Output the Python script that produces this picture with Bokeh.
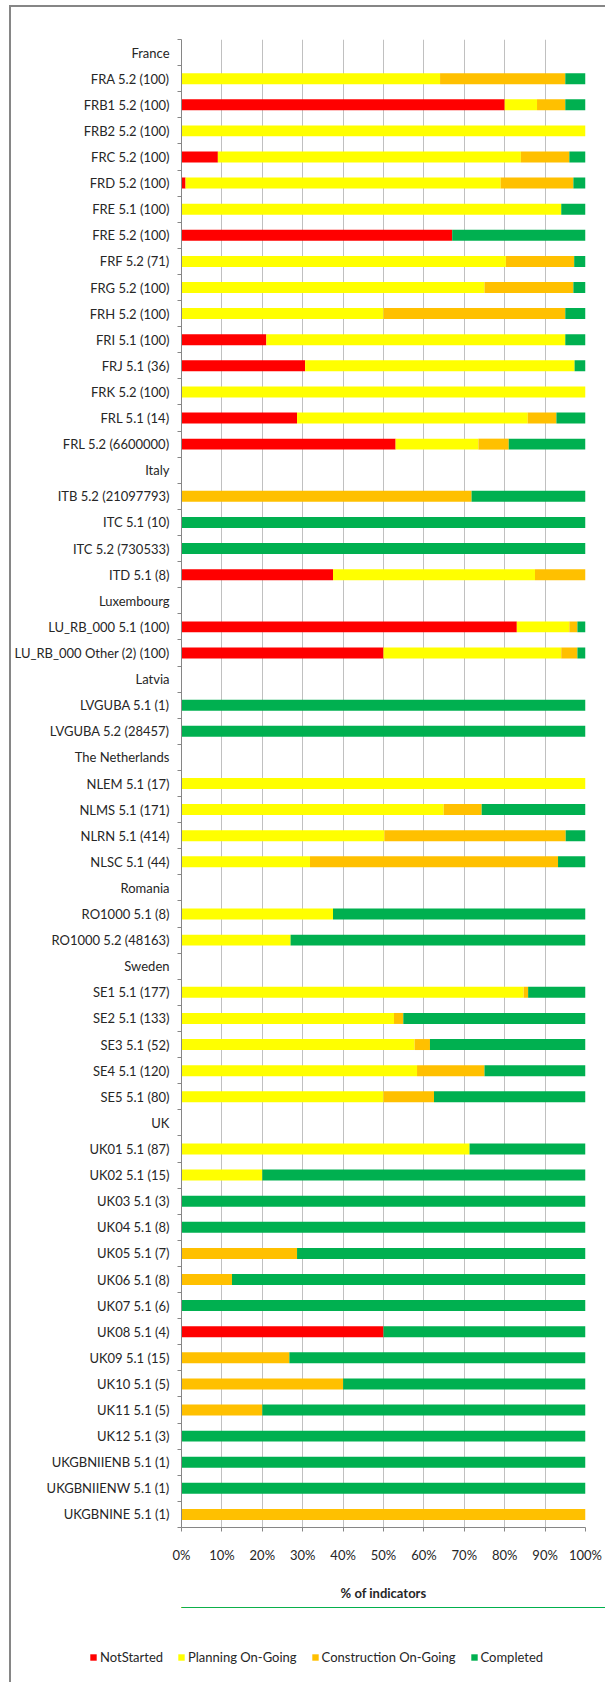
from bokeh.plotting import figure
from bokeh.layouts import column
from bokeh.models import (ColumnDataSource, Range1d, LinearAxis, FixedTicker, PrintfTickFormatter,
                          CustomJSTickFormatter, Legend, LegendItem)
from bokeh.embed import file_html
from bokeh.resources import INLINE

labels = [
    "France", "FRA 5.2 (100)", "FRB1 5.2 (100)", "FRB2 5.2 (100)", "FRC 5.2 (100)", "FRD 5.2 (100)",
    "FRE 5.1 (100)", "FRE 5.2 (100)", "FRF 5.2 (71)", "FRG 5.2 (100)", "FRH 5.2 (100)", "FRI 5.1 (100)",
    "FRJ 5.1 (36)", "FRK 5.2 (100)", "FRL 5.1 (14)", "FRL 5.2 (6600000)",
    "Italy", "ITB 5.2 (21097793)", "ITC 5.1 (10)", "ITC 5.2 (730533)", "ITD 5.1 (8)",
    "Luxembourg", "LU_RB_000 5.1 (100)", "LU_RB_000 Other (2) (100)",
    "Latvia", "LVGUBA 5.1 (1)", "LVGUBA 5.2 (28457)",
    "The Netherlands", "NLEM 5.1 (17)", "NLMS 5.1 (171)", "NLRN 5.1 (414)", "NLSC 5.1 (44)",
    "Romania", "RO1000 5.1 (8)", "RO1000 5.2 (48163)",
    "Sweden", "SE1 5.1 (177)", "SE2 5.1 (133)", "SE3 5.1 (52)", "SE4 5.1 (120)", "SE5 5.1 (80)",
    "UK", "UK01 5.1 (87)", "UK02 5.1 (15)", "UK03 5.1 (3)", "UK04 5.1 (8)", "UK05 5.1 (7)",
    "UK06 5.1 (8)", "UK07 5.1 (6)", "UK08 5.1 (4)", "UK09 5.1 (15)", "UK10 5.1 (5)", "UK11 5.1 (5)",
    "UK12 5.1 (3)", "UKGBNIIENB 5.1 (1)", "UKGBNIIENW 5.1 (1)", "UKGBNINE 5.1 (1)",
]

not_started = [
    0, 0, 80, 0, 9, 1, 0, 67, 0, 0, 0, 21, 30.6, 0, 28.6, 53,
    0, 0, 0, 0, 37.5,
    0, 83, 50,
    0, 0, 0,
    0, 0, 0, 0, 0,
    0, 0, 0,
    0, 0, 0, 0, 0, 0,
    0, 0, 0, 0, 0, 0, 0, 0, 50, 0, 0, 0, 0, 0, 0, 0,
]
planning = [
    0, 64, 8, 100, 75, 78, 94, 0, 80.3, 75, 50, 74, 66.7, 100, 57.1, 20.5,
    0, 0, 0, 0, 50,
    0, 13, 44,
    0, 0, 0,
    0, 100, 64.9, 50.2, 31.8,
    0, 37.5, 27,
    0, 84.7, 52.6, 57.7, 58.3, 50,
    0, 71.3, 20, 0, 0, 0, 0, 0, 0, 0, 0, 0, 0, 0, 0, 0,
]
construction = [
    0, 31, 7, 0, 12, 18, 0, 0, 16.9, 22, 45, 0, 0, 0, 7.1, 7.5,
    0, 71.8, 0, 0, 12.5,
    0, 2, 4,
    0, 0, 0,
    0, 0, 9.4, 44.9, 61.4,
    0, 0, 0,
    0, 1.1, 2.3, 3.8, 16.7, 12.5,
    0, 0, 0, 0, 0, 28.6, 12.5, 0, 0, 26.7, 40, 20, 0, 0, 0, 100,
]
completed = [
    0, 5, 5, 0, 4, 3, 6, 33, 2.8, 3, 5, 5, 2.7, 0, 7.2, 19,
    0, 28.2, 100, 100, 0,
    0, 2, 2,
    0, 100, 100,
    0, 0, 25.7, 4.9, 6.8,
    0, 62.5, 73,
    0, 14.2, 45.1, 38.5, 25, 37.5,
    0, 28.7, 80, 100, 100, 71.4, 87.5, 100, 50, 73.3, 60, 80, 100, 100, 100, 0,
]

series_names = ["NotStarted", "Planning On-Going", "Construction On-Going", "Completed"]
series_keys = ["not_started", "planning", "construction", "completed"]
series_colors = ["#FF0000", "#FFFF00", "#FFC000", "#00B050"]
x_ticks = [0, 10, 20, 30, 40, 50, 60, 70, 80, 90, 100]

FONT = "Lato"
TEXT = "#262626"
GRAY = "#868686"

n = len(labels)
ypos = [n - i for i in range(n)]          # first label at the top
bounds = [k + 0.5 for k in range(n + 1)]  # category separators

source = ColumnDataSource(dict(y=ypos, label=labels, not_started=not_started, planning=planning,
                               construction=construction, completed=completed))

p = figure(
    y_range=Range1d(0.5, n + 0.5),
    x_range=Range1d(0, 100),
    frame_width=404, frame_height=1488,
    min_border_left=170, min_border_right=20, min_border_top=32, min_border_bottom=80,
    y_axis_location=None,
    output_backend="svg", toolbar_location=None,
)
p.outline_line_color = None
p.background_fill_color = "white"
p.border_fill_color = "white"

bars = p.hbar_stack(series_keys, y="y", height=0.42, color=series_colors, line_color=None,
                    source=source)

# inner axis: line + separator ticks between categories
bounds_axis = LinearAxis(ticker=FixedTicker(ticks=bounds),
                         formatter=CustomJSTickFormatter(code="return '';"),
                         major_label_text_font_size="1px", major_label_standoff=0,
                         major_tick_out=4, major_tick_in=0, minor_tick_out=0, minor_tick_in=0,
                         axis_line_color=GRAY, major_tick_line_color=GRAY)
p.add_layout(bounds_axis, "left")

# outer axis: category labels
label_axis = LinearAxis(ticker=FixedTicker(ticks=ypos),
                        major_label_overrides={y: lab for y, lab in zip(ypos, labels)},
                        major_tick_out=0, major_tick_in=0, minor_tick_out=0, minor_tick_in=0,
                        axis_line_color=None,
                        major_label_standoff=8, major_label_text_font=FONT,
                        major_label_text_font_size="13px", major_label_text_color=TEXT)
p.add_layout(label_axis, "left")

xa = p.xaxis[0]
xa.ticker = FixedTicker(ticks=x_ticks)
xa.formatter = PrintfTickFormatter(format="%d%%")
xa.major_tick_out = 4
xa.major_tick_in = 0
xa.minor_tick_out = 0
xa.minor_tick_in = 0
xa.axis_line_color = GRAY
xa.major_tick_line_color = GRAY
xa.major_label_text_font = FONT
xa.major_label_text_font_size = "13px"
xa.major_label_text_color = TEXT
xa.major_label_standoff = 15
xa.axis_label = "% of indicators"
xa.axis_label_text_font = FONT
xa.axis_label_text_font_style = "bold"
xa.axis_label_text_font_size = "13px"
xa.axis_label_text_color = TEXT
xa.axis_label_standoff = 19

p.xgrid.ticker = FixedTicker(ticks=x_ticks)
p.xgrid.grid_line_color = "#C0C0C0"
p.ygrid.grid_line_color = None

# legend strip below the chart; its renderers share the series data, zero height, out of range
leg_fig = figure(
    x_range=Range1d(0, 100), y_range=Range1d(-2, -1),
    frame_width=594, frame_height=75, min_border=0,
    x_axis_location=None, y_axis_location=None,
    output_backend="svg", toolbar_location=None,
)
leg_fig.outline_line_color = None
leg_fig.grid.grid_line_color = None
leg_fig.background_fill_color = "white"
swatches = leg_fig.hbar_stack(series_keys, y="y", height=0, color=series_colors,
                              line_color=None, source=source)

legend = Legend(items=[LegendItem(label=nm, renderers=[r]) for nm, r in zip(series_names, swatches)],
                orientation="horizontal", location=(78, 17), padding=0, margin=0,
                spacing=14, glyph_width=8, glyph_height=8, label_standoff=3,
                label_text_font=FONT, label_text_font_size="13px", label_text_color=TEXT,
                border_line_color=None, background_fill_alpha=0)
leg_fig.add_layout(legend)

layout = column(p, leg_fig, spacing=0,
                styles={"margin-left": "9px", "margin-top": "5px",
                        "border-left": "2px solid #868686", "border-top": "2px solid #868686"})

open("out.html", "w").write(file_html(layout, INLINE))
